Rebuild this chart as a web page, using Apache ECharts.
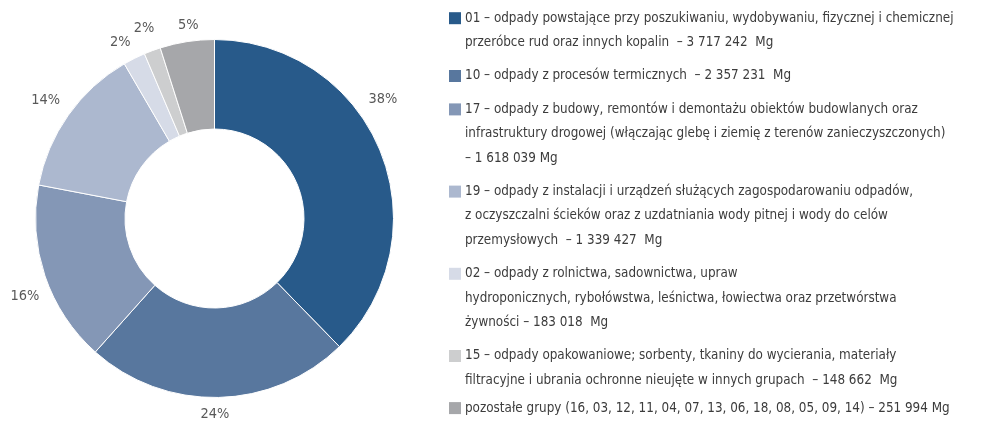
<!DOCTYPE html>
<html><head><meta charset="utf-8">
<script src="https://cdn.jsdelivr.net/npm/echarts@6/dist/echarts.min.js"></script>
<style>html,body{margin:0;padding:0;background:#fff}#c{width:981px;height:421px}</style>
</head><body><div id="c"></div>
<script>
// ---- data ----
const codes = ['01', '10', '17', '19', '02', '15', 'pozostałe'];
const legendLines = [
  ['01 – odpady powstające przy poszukiwaniu, wydobywaniu, fizycznej i chemicznej',
   'przeróbce rud oraz innych kopalin  – 3 717 242  Mg'],
  ['10 – odpady z procesów termicznych  – 2 357 231  Mg'],
  ['17 – odpady z budowy, remontów i demontażu obiektów budowlanych oraz',
   'infrastruktury drogowej (włączając glebę i ziemię z terenów zanieczyszczonych)',
   '– 1 618 039 Mg'],
  ['19 – odpady z instalacji i urządzeń służących zagospodarowaniu odpadów,',
   'z oczyszczalni ścieków oraz z uzdatniania wody pitnej i wody do celów',
   'przemysłowych  – 1 339 427  Mg'],
  ['02 – odpady z rolnictwa, sadownictwa, upraw',
   'hydroponicznych, rybołówstwa, leśnictwa, łowiectwa oraz przetwórstwa',
   'żywności – 183 018  Mg'],
  ['15 – odpady opakowaniowe; sorbenty, tkaniny do wycierania, materiały',
   'filtracyjne i ubrania ochronne nieujęte w innych grupach  – 148 662  Mg'],
  ['pozostałe grupy (16, 03, 12, 11, 04, 07, 13, 06, 18, 08, 05, 09, 14) – 251 994 Mg']
];
const massMg = [3717242, 2357231, 1618039, 1339427, 183018, 148662, 251994];
// slice shares as drawn in the picture (%)
const sharePct = [37.7, 23.9, 16.4, 13.6, 2.0, 1.5, 4.9];

// ---- styles ----
const colors = ['#285A8A', '#58779E', '#8497B6', '#ACB8CF', '#D6DBE7', '#CDCECF', '#A6A7AA'];
// small per-label nudges (px) to follow the original label placement
const labelNudge = [[-14, -45], [-4, -1], [-3, 15], [-8, -4], [-6, 0], [-2, -6], [4, 1]];

// ---- font choice ----
function hasFont(f) {
  const ctx = document.createElement('canvas').getContext('2d');
  const s = 'abcdefghijklmnopqrstuvwxyz0123456789 ąęłóż';
  for (const base of ['monospace', 'serif']) {
    ctx.font = '32px ' + base; const w0 = ctx.measureText(s).width;
    ctx.font = '32px "' + f + '", ' + base; const w1 = ctx.measureText(s).width;
    if (Math.abs(w0 - w1) > 0.5) return true;
  }
  return false;
}
const cands = ['Liberation Sans Narrow', 'DejaVu Sans Condensed', 'Roboto Condensed', 'Open Sans Condensed', 'Noto Sans Condensed', 'Arial Narrow', 'Roboto', 'Liberation Sans'];
const family = cands.find(hasFont) || 'sans-serif';
function measure(txt, size) {
  const ctx = document.createElement('canvas').getContext('2d');
  ctx.font = size + 'px "' + family + '", sans-serif';
  return ctx.measureText(txt).width;
}
let legendSize = 16 * 485 / measure(legendLines[6][0], 16);
legendSize = Math.max(11, Math.min(17, legendSize));
const labelSize = legendSize * 1.08;
const fam = '"' + family + '", sans-serif';
const LH = 24.4, LH_LAST = 11.6;

const rich = {
  t: { fontSize: legendSize, fontFamily: fam, color: '#3c3c3c', lineHeight: LH },
  tl: { fontSize: legendSize, fontFamily: fam, color: '#3c3c3c', lineHeight: LH_LAST },
  gap: { width: 4, lineHeight: LH },
  gapl: { width: 4, lineHeight: LH_LAST },
  ind: { width: 16, lineHeight: LH }
};
colors.forEach((c, i) => {
  rich['sq' + i] = { width: 12, height: 12, backgroundColor: c, lineHeight: i === colors.length - 1 ? LH_LAST : LH };
});

const chart = echarts.init(document.getElementById('c'), null, { renderer: 'canvas' });
chart.setOption({
  animation: false,
  backgroundColor: '#fff',
  legend: {
    orient: 'vertical', left: 444, top: 6, padding: 0, itemGap: 9,
    icon: 'none', itemWidth: 0, itemHeight: 12, selectedMode: false,
    data: codes,
    textStyle: { fontSize: legendSize, fontFamily: fam, color: '#3c3c3c', lineHeight: LH, rich: rich },
    formatter: function (name) {
      const i = codes.indexOf(name);
      const last = i === codes.length - 1;
      return legendLines[i].map((l, k) =>
        (k === 0 ? '{sq' + i + '|}{' + (last ? 'gapl' : 'gap') + '|}' : '{ind|}') +
        '{' + (last ? 'tl' : 't') + '|' + l + '}').join('\n');
    }
  },
  series: [{
    type: 'pie', center: [214.5, 218.5], radius: [89.5, 179],
    startAngle: 90, clockwise: true, avoidLabelOverlap: false, silent: true,
    itemStyle: { borderColor: '#fff', borderWidth: 1 },
    label: {
      show: true, position: 'outside', distanceToLabelLine: 0,
      formatter: p => Math.round(p.value) + '%',
      color: '#595959', fontSize: labelSize, fontFamily: fam
    },
    labelLine: { show: false, length: 18, length2: 0 },
    labelLayout: function (p) {
      const n = labelNudge[p.dataIndex] || [0, 0];
      return { align: 'center', verticalAlign: 'middle', dx: n[0], dy: n[1] };
    },
    emphasis: { disabled: true },
    data: codes.map((c, i) => ({ name: c, value: sharePct[i], itemStyle: { color: colors[i] } }))
  }]
});
</script>
</body></html>
